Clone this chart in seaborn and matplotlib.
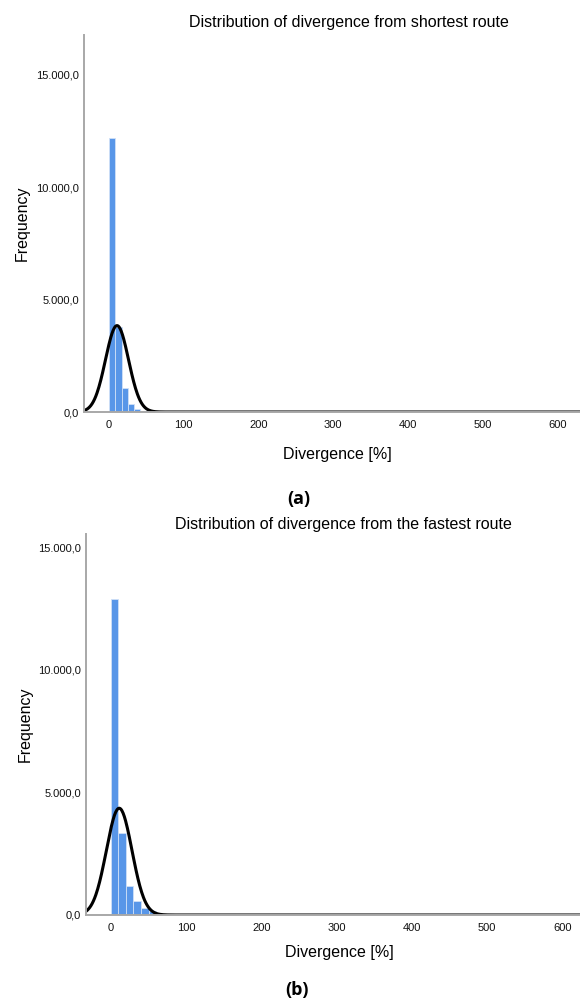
import numpy as np
import pandas as pd
import seaborn as sns
import matplotlib.pyplot as plt

# bin counts (first bins only, the long tail is ~0)
counts_a = [12200, 3800, 1090, 370, 135, 45, 20, 10]
width_a = 8.4
mean_a, sd_a = 10.7, 15.4

counts_b = [12900, 3350, 1190, 560, 285, 175, 60, 25]
width_b = 10.0
mean_b, sd_b = 11.0, 17.0

titles = ["Distribution of divergence from shortest route",
          "Distribution of divergence from the fastest route"]
yticks = [0, 5000, 10000, 15000]
ytick_labels = ["0,0", "5.000,0", "10.000,0", "15.000,0"]
xticks = [0, 100, 200, 300, 400, 500, 600]

sns.set_theme(style="white")
plt.rcParams['font.family'] = ['Liberation Sans', 'DejaVu Sans']
plt.rcParams['text.color'] = 'black'

fig = plt.figure(figsize=(5.8, 10.01), dpi=100)
W, H = 580, 1001


def txt(x, y, s, **kw):
    # place text by pixel position (from top-left)
    return fig.text(x / W, 1 - y / H, s, ha='center', va='center', color='black', **kw)


def panel(box, counts, bw, mu, sd, xlim, ylim):
    left, top, right, bottom = box
    ax = fig.add_axes([left / W, 1 - bottom / H, (right - left) / W, (bottom - top) / H])
    k = len(counts)
    df = pd.DataFrame({'div': (np.arange(k) + 0.5) * bw, 'n': counts})
    sns.histplot(data=df, x='div', weights='n', binwidth=bw, binrange=(0, k * bw), ax=ax,
                 color='#5896e8', alpha=1, edgecolor='#cfe0f7', linewidth=0.6)
    # normal curve scaled to counts
    n = sum(counts)
    xs = np.linspace(xlim[0], xlim[1], 800)
    ys = n * bw / (sd * np.sqrt(2 * np.pi)) * np.exp(-0.5 * ((xs - mu) / sd) ** 2)
    sns.lineplot(x=xs, y=ys, ax=ax, color='black', linewidth=2.2)
    ax.set_xlim(*xlim)
    ax.set_ylim(*ylim)
    ax.set_xticks(xticks)
    ax.set_xticklabels([str(t) for t in xticks], fontsize=8, color='#111111')
    ax.set_yticks(yticks)
    ax.set_yticklabels(ytick_labels, fontsize=8, color='#111111')
    ax.tick_params(axis='x', length=0, pad=6)
    ax.tick_params(axis='y', length=0, pad=3.5)
    for s in ['top', 'right']:
        ax.spines[s].set_visible(False)
    for s in ['left', 'bottom']:
        ax.spines[s].set_color('#a8a8a8')
        ax.spines[s].set_linewidth(1.4)
    ax.set_xlabel("")
    ax.set_ylabel("")
    return ax


ax1 = panel((84, 35, 580, 412), counts_a, width_a, mean_a, sd_a,
            (-33.5, 630.5), (0, 16780))
txt(349, 22, titles[0], fontsize=11.5)
txt(337, 455, "Divergence [%]", fontsize=11.5)
txt(22, 223, "Frequency", fontsize=11.5, rotation=90)
txt(299, 499, "(a)", fontsize=13, fontweight='bold', family=['Open Sans', 'DejaVu Sans'])

ax2 = panel((86, 534, 580, 915), counts_b, width_b, mean_b, sd_b,
            (-33.1, 623.5), (0, 15530))
txt(343, 524, titles[1], fontsize=11.5)
txt(339, 952, "Divergence [%]", fontsize=11.5)
txt(25, 724, "Frequency", fontsize=11.5, rotation=90)
txt(297, 990, "(b)", fontsize=13, fontweight='bold', family=['Open Sans', 'DejaVu Sans'])

plt.savefig("out.png", dpi=100)
